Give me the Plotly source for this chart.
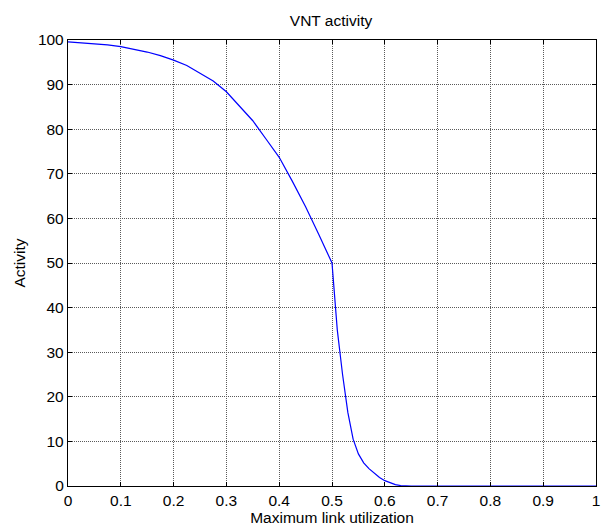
import plotly.graph_objects as go

# Maximum link utilization vs. VNT activity (%)
utilization = [0.0, 0.025, 0.05, 0.075, 0.1, 0.125, 0.15, 0.175, 0.2, 0.225,
               0.25, 0.275, 0.3, 0.325, 0.35, 0.375, 0.4, 0.425, 0.45, 0.475,
               0.5, 0.51, 0.52, 0.53, 0.54, 0.55, 0.56, 0.57, 0.58, 0.59,
               0.6, 0.61, 0.62, 0.63, 0.65, 0.7, 0.75, 0.8, 0.85, 0.9, 0.95, 1.0]
activity = [99.6, 99.4, 99.2, 98.9, 98.5, 97.9, 97.3, 96.5, 95.5, 94.3,
            92.6, 90.8, 88.4, 85.2, 81.9, 77.8, 73.7, 68.3, 62.6, 56.4,
            50.0, 35.0, 25.0, 16.5, 10.5, 7.2, 5.2, 3.9, 2.8, 1.9,
            1.2, 0.7, 0.3, 0.1, 0.0, 0.0, 0.0, 0.0, 0.0, 0.0, 0.0, 0.0]

x_ticks = [0, 0.1, 0.2, 0.3, 0.4, 0.5, 0.6, 0.7, 0.8, 0.9, 1]
x_tick_labels = ["0", "0.1", "0.2", "0.3", "0.4", "0.5", "0.6", "0.7", "0.8", "0.9", "1"]
y_ticks = [0, 10, 20, 30, 40, 50, 60, 70, 80, 90, 100]

font = dict(family="Liberation Sans, Arial, sans-serif", size=15.5, color="black")

fig = go.Figure()
fig.add_trace(go.Scatter(
    x=utilization, y=activity, mode="lines",
    line=dict(color="rgb(0,0,255)", width=1.2),
    cliponaxis=False, showlegend=False, hoverinfo="skip",
))

axis_common = dict(
    showline=True, linecolor="black", linewidth=1.3, mirror="allticks",
    ticks="inside", ticklen=4, tickcolor="black", tickwidth=1,
    showgrid=True, gridcolor="rgb(90,90,90)", gridwidth=1, griddash="1px,1px",
    zeroline=False, tickfont=font, ticklabeloverflow="allow",
)

fig.update_xaxes(
    range=[0, 1], tickvals=x_ticks, ticktext=x_tick_labels,
    title=dict(text="Maximum link utilization", font=font, standoff=2),
    **axis_common,
)
fig.update_yaxes(
    range=[0, 100], tickvals=y_ticks,
    title=dict(text="Activity", font=font, standoff=8),
    **axis_common,
)

fig.update_layout(
    width=602, height=532,
    margin=dict(l=68, r=2, t=40, b=46),
    paper_bgcolor="white", plot_bgcolor="white",
    title=dict(text="VNT activity", font=font, x=331 / 602, xanchor="center",
               y=1 - 21 / 532, yanchor="middle"),
)

fig.write_html("out.html")
